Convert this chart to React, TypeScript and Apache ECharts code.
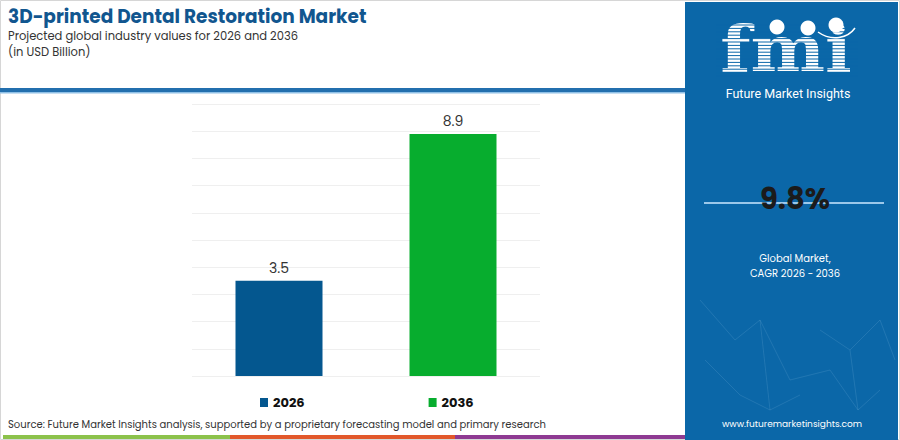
import React, { useEffect, useRef } from "react";
import * as echarts from "echarts";

const categories = ["2026", "2036"];
const seriesNames = ["2026", "2036"];
const values2026 = [3.5, "-"];
const values2036 = ["-", 8.9];
const yTicks = [0, 1, 2, 3, 4, 5, 6, 7, 8, 9, 10];
const cagrText = "9.8%";

const FONT = "Poppins, 'Noto Sans', 'Open Sans', sans-serif";
const PANEL = "#0b67a8";

export default function App() {
  const ref = useRef<HTMLDivElement>(null);
  useEffect(() => {
    document.body.style.margin = "0";
    const chart = echarts.init(ref.current!, null, { renderer: "svg" });

    const stripes: any[] = [];
    for (let y = 25; y < 79; y += 3.4) {
      stripes.push({
        type: "line",
        shape: { x1: 716, y1: y, x2: 858, y2: y },
        style: { stroke: PANEL, lineWidth: 1 },
        z: 12,
      });
    }

    const net: any[] = [
      [[700, 300], [735, 340], [760, 320], [790, 380]],
      [[760, 320], [770, 410], [800, 395]],
      [[820, 330], [850, 350], [880, 320], [895, 360]],
      [[850, 350], [858, 410], [880, 390]],
      [[705, 360], [740, 395], [770, 410]],
      [[790, 380], [830, 370], [858, 410]],
    ].map((pts) => ({
      type: "polyline",
      shape: { points: pts },
      style: { stroke: "rgba(170,210,240,0.14)", lineWidth: 1, fill: null },
      z: 3,
    }));

    chart.setOption({
      animation: false,
      backgroundColor: "#ffffff",
      textStyle: { fontFamily: FONT },
      grid: { left: 192, right: 360, top: 104, bottom: 64, containLabel: false },
      legend: {
        data: seriesNames,
        left: 255,
        top: 391,
        icon: "rect",
        itemWidth: 8,
        itemHeight: 9,
        itemGap: 124,
        textStyle: { fontSize: 13, fontWeight: "bold", color: "#111", fontFamily: FONT },
        selectedMode: false,
      },
      xAxis: {
        type: "category",
        data: categories,
        axisLine: { show: false },
        axisTick: { show: false },
        axisLabel: { show: false },
      },
      yAxis: {
        type: "value",
        min: yTicks[0],
        max: yTicks[yTicks.length - 1],
        interval: 1,
        axisLabel: { show: false },
        axisLine: { show: false },
        axisTick: { show: false },
        splitLine: { lineStyle: { color: "#efefef", width: 1 } },
      },
      series: [
        {
          name: seriesNames[0],
          type: "bar",
          data: values2026,
          barWidth: 87,
          barGap: "-100%",
          itemStyle: { color: "#04578f" },
          label: { show: true, position: "top", distance: 6, fontSize: 14, color: "#333", fontFamily: FONT },
        },
        {
          name: seriesNames[1],
          type: "bar",
          data: values2036,
          barWidth: 87,
          barGap: "-100%",
          itemStyle: { color: "#07ad2e" },
          label: { show: true, position: "top", distance: 6, fontSize: 14, color: "#333", fontFamily: FONT },
        },
      ],
      graphic: [
        { type: "rect", shape: { x: 0.5, y: 0.5, width: 899, height: 439 }, style: { stroke: "#d6d6d6", fill: null, lineWidth: 1 }, z: 1 },
        { type: "rect", shape: { x: 0, y: 88, width: 685, height: 4 }, style: { fill: "#236fae" }, z: 2 },
        { type: "rect", shape: { x: 0, y: 92, width: 685, height: 1.5 }, style: { fill: "#8fc0e6" }, z: 2 },
        {
          type: "text",
          style: { x: 8, y: 16, text: "3D-printed Dental Restoration Market", font: `bold 18.5px ${FONT}`, fill: "#11568f", textVerticalAlign: "middle", lineHeight: 18 },
          z: 5,
        },
        {
          type: "text",
          style: { x: 8, y: 36, text: "Projected global industry values for 2026 and 2036", font: `11.5px ${FONT}`, fill: "#333", textVerticalAlign: "middle", lineHeight: 13 },
          z: 5,
        },
        {
          type: "text",
          style: { x: 8, y: 52, text: "(in USD Billion)", font: `11.5px ${FONT}`, fill: "#333", textVerticalAlign: "middle", lineHeight: 13 },
          z: 5,
        },
        {
          type: "text",
          style: {
            x: 8,
            y: 424,
            text: "Source: Future Market Insights analysis, supported by a proprietary forecasting model and primary research",
            font: `10px ${FONT}`,
            fill: "#333",
            textVerticalAlign: "middle",
          },
          z: 5,
        },
        { type: "rect", shape: { x: 3, y: 435, width: 227, height: 4 }, style: { fill: "#8cc24b" }, z: 2 },
        { type: "rect", shape: { x: 230, y: 435, width: 225, height: 4 }, style: { fill: "#e2582b" }, z: 2 },
        { type: "rect", shape: { x: 455, y: 435, width: 230, height: 4 }, style: { fill: "#8e3a92" }, z: 2 },
        { type: "rect", shape: { x: 685, y: 2, width: 213, height: 438 }, style: { fill: PANEL }, z: 2 },
        ...net,
        {
          type: "text",
          x: 786,
          y: 49,
          scaleX: 1.1,
          style: { x: 0, y: 0, text: "fmi", font: `bold 64px 'DejaVu Serif', serif`, fill: "#ffffff", textAlign: "center", textVerticalAlign: "middle", lineHeight: 56 },
          z: 10,
        },
        ...stripes,
        { type: "circle", shape: { cx: 777, cy: 27, r: 7.5 }, style: { fill: "#ffffff" }, z: 13 },
        { type: "circle", shape: { cx: 808, cy: 28, r: 7.5 }, style: { fill: "#ffffff" }, z: 13 },
        { type: "circle", shape: { cx: 836, cy: 25, r: 7.5 }, style: { fill: "#ffffff" }, z: 13 },
        {
          type: "bezierCurve",
          shape: { x1: 818, y1: 32, x2: 855, y2: 28, cpx1: 832, cpy1: 42, cpx2: 848, cpy2: 38 },
          style: { stroke: "#ffffff", lineWidth: 1.5, fill: null },
          z: 13,
        },
        {
          type: "text",
          style: { x: 788, y: 93.5, text: "Future Market Insights", font: `12.5px 'Roboto', sans-serif`, fill: "#ffffff", textAlign: "center", textVerticalAlign: "middle", lineHeight: 14 },
          z: 10,
        },
        { type: "rect", shape: { x: 704, y: 202, width: 180, height: 2 }, style: { fill: "#9cc8ea" }, z: 10 },
        {
          type: "text",
          style: { x: 795, y: 199, text: cagrText, font: `bold 29px ${FONT}`, fill: "#1b1b1b", textAlign: "center", textVerticalAlign: "middle" },
          z: 11,
        },
        {
          type: "text",
          style: { x: 795, y: 258.5, text: "Global Market,", font: `10px ${FONT}`, fill: "#ffffff", textAlign: "center", textVerticalAlign: "middle", lineHeight: 12 },
          z: 10,
        },
        {
          type: "text",
          style: { x: 795, y: 273, text: "CAGR 2026 - 2036", font: `10px ${FONT}`, fill: "#ffffff", textAlign: "center", textVerticalAlign: "middle", lineHeight: 12 },
          z: 10,
        },
        {
          type: "text",
          style: { x: 792, y: 424, text: "www.futuremarketinsights.com", font: `9px ${FONT}`, fill: "#ffffff", textAlign: "center", textVerticalAlign: "middle" },
          z: 10,
        },
      ],
    });
    return () => chart.dispose();
  }, []);
  return <div ref={ref} style={{ position: "fixed", left: 0, top: 0, width: 900, height: 440 }} />;
}
